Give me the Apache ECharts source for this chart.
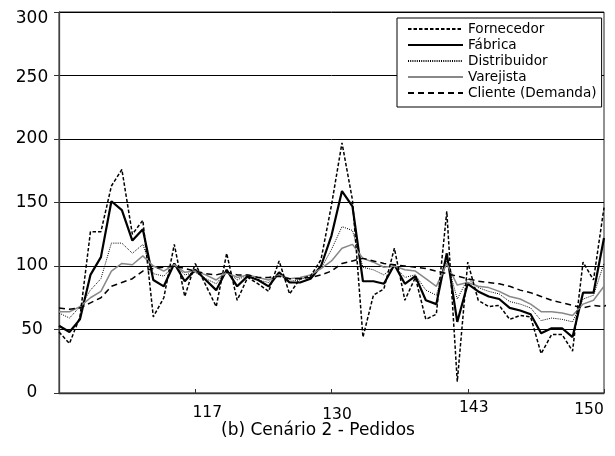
<!DOCTYPE html>
<html><head><meta charset="utf-8">
<script src="https://cdn.jsdelivr.net/npm/echarts@6/dist/echarts.min.js"></script>
<style>html,body{margin:0;padding:0;background:#fff}#c{width:615px;height:456px}</style>
</head><body><div id="c"></div>
<script>
const periods = ['104','105','106','107','108','109','110','111','112','113','114','115','116','117','118','119','120','121','122','123','124','125','126','127','128','129','130','131','132','133','134','135','136','137','138','139','140','141','142','143','144','145','146','147','148','149','150','151','152','153','154','155','156'];
const tickIndex = [13, 26, 39, 52];
const tickLabels = ['117', '130', '143', '150'];
const seriesNames = ['Fornecedor', 'Fábrica', 'Distribuidor', 'Varejista', 'Cliente (Demanda)'];
const chartTitle = '(b) Cenário 2 - Pedidos';

const fornecedor = [48,39,60,127,127,163,176,125,136,60,75,117,76,102,85,68,110,73,91,86,80,104,78,90,92,105,148,197,152,44,77,82,114,73,91,58,62,143,9,103,73,68,69,58,61,60,31,46,46,33,103,89,146];
const fabrica = [53,48,58,93,107,151,144,120,129,89,84,102,88,97,89,81,97,84,92,89,84,95,87,87,90,100,124,159,147,88,88,86,101,86,92,73,70,110,56,86,80,76,74,67,65,62,47,51,51,44,79,79,122];
const distribuidor = [63,59,68,81,90,118,118,110,117,94,92,101,93,95,90,86,96,89,93,89,87,94,88,89,93,98,113,131,128,99,97,93,100,91,93,81,77,104,74,90,83,80,78,72,70,67,57,59,58,56,74,77,102];
const varejista = [64,64,68,75,80,96,102,101,108,100,96,101,95,96,93,89,95,91,93,91,89,93,90,91,93,98,104,114,117,106,103,99,100,97,96,90,84,102,85,87,84,83,80,76,74,70,64,64,63,61,70,73,84];
const cliente = [67,66,67,71,75,84,87,90,96,98,99,100,98,96,94,93,95,93,93,91,91,92,90,90,91,93,96,102,104,106,104,102,101,100,99,98,96,94,92,90,88,87,86,84,81,79,76,73,71,69,67,69,68,73];

const FONT = 'DejaVu Sans';
const chart = echarts.init(document.getElementById('c'), null, {renderer: 'canvas'});

function xr(p) { return {fontFamily: FONT, fontSize: 15.5, color: '#000', padding: p}; }
function yr(p) { return {fontFamily: FONT, fontSize: 17, color: '#000', padding: p}; }
const xKeys = ['a', 'b', 'c', 'd'];

const styles = [
  {color: '#000', width: 1.5, type: [3.5, 2]},
  {color: '#000', width: 2.2, type: 'solid'},
  {color: '#000', width: 1, type: [1, 1.2]},
  {color: '#888', width: 1.5, type: 'solid'},
  {color: '#000', width: 1.5, type: [6, 4]}
];
const dataSets = [fornecedor, fabrica, distribuidor, varejista, cliente];

const option = {
  animation: false,
  backgroundColor: '#fff',
  textStyle: {fontFamily: FONT},
  title: {
    text: chartTitle, left: 221, top: 422, padding: 0,
    textStyle: {fontFamily: FONT, fontSize: 17, fontWeight: 'normal', color: '#000'}
  },
  legend: {
    orient: 'vertical', left: 397, top: 18, padding: [4, 5, 7, 10],
    itemWidth: 55, itemHeight: 14, itemGap: 2,
    borderColor: '#000', borderWidth: 1, backgroundColor: '#fff',
    itemStyle: {opacity: 0},
    textStyle: {fontFamily: FONT, fontSize: 13.6, color: '#000'},
    data: seriesNames
  },
  grid: {left: 59, right: 11, top: 12, bottom: 63, show: true, borderColor: '#222', borderWidth: 1},
  xAxis: {
    type: 'category', data: periods, boundaryGap: false,
    axisLine: {lineStyle: {color: '#333', width: 1.3}},
    axisTick: {inside: true, length: 4, interval: (i) => tickIndex.includes(i), lineStyle: {color: '#333'}},
    axisLabel: {
      interval: (i) => tickIndex.includes(i), margin: 7,
      formatter: (v, i) => { const k = tickIndex.indexOf(i); return k < 0 ? '' : '{' + xKeys[k] + '|' + tickLabels[k] + '}'; },
      rich: {a: xr([5, 0, 0, 24]), b: xr([7, 0, 0, 11]), c: xr([0, 0, 0, 12]), d: xr([2, 30, 0, 0])}
    },
    splitLine: {show: false}
  },
  yAxis: {
    type: 'value', min: 0, max: 300, interval: 50,
    axisLine: {show: true, lineStyle: {color: '#444', width: 1.3}},
    axisTick: {show: true, length: 5, lineStyle: {color: '#333'}},
    axisLabel: {
      margin: 27, align: 'center',
      formatter: (v) => v === 300 ? '{p|300}' : (v === 250 ? '{q|250}' : '{n|' + v + '}'),
      rich: {p: yr([14, 0, 0, 0]), q: yr([4, 0, 0, 0]), n: yr(0)}
    },
    splitLine: {show: true, lineStyle: {color: '#000', width: 1}}
  },
  series: seriesNames.map((name, k) => ({
    name: name, type: 'line', data: dataSets[k], symbol: 'none', showSymbol: false,
    lineStyle: styles[k], itemStyle: {color: styles[k].color},
    emphasis: {disabled: true}, z: 2 + (k === 0 ? 1 : 0)
  }))
};
chart.setOption(option);
</script></body></html>
